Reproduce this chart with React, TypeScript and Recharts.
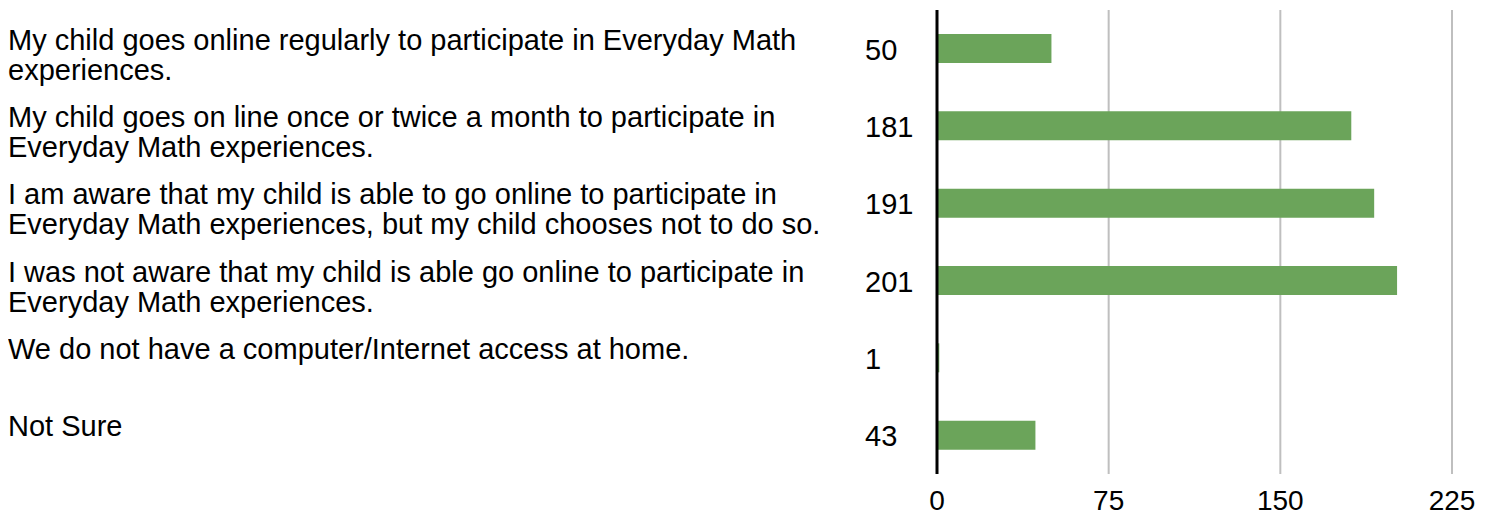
import React from "react";
import { BarChart, Bar, XAxis, YAxis, CartesianGrid } from "recharts";

// survey answers, split into the lines they wrap to
const answerLines: string[][] = [
  ["My child goes online regularly to participate in Everyday Math", "experiences."],
  ["My child goes on line once or twice a month to participate in", "Everyday Math experiences."],
  ["I am aware that my child is able to go online to participate in", "Everyday Math experiences, but my child chooses not to do so."],
  ["I was not aware that my child is able go online to participate in", "Everyday Math experiences."],
  ["We do not have a computer/Internet access at home."],
  ["Not Sure"],
];
const counts = [50, 181, 191, 201, 1, 43];
const xTicks = [0, 75, 150, 225];

const FONT = "'Liberation Sans', Arial, Helvetica, sans-serif";
const GREEN = "#6ba45a";

const data = answerLines.map((lines, i) => ({
  answer: lines.join(" "),
  count: counts[i],
}));

const AnswerTick = ({ y, payload }: any) => {
  const i = data.findIndex(d => d.answer === payload.value);
  const lines = answerLines[i] || [];
  return (
    <g>
      <text x={0} y={y + 1} fontSize={29} fontFamily={FONT} fill="#000">
        {lines.map((l, k) => (
          <tspan key={k} x={0} dy={k === 0 ? 0 : 30}>{l}</tspan>
        ))}
      </text>
      <text x={857} y={y + 11} fontSize={29} fontFamily={FONT} fill="#000">
        {counts[i]}
      </text>
    </g>
  );
};

const CountTick = ({ x, y, payload }: any) => (
  <text x={x} y={y} dy={28} textAnchor="middle" fontSize={28} fontFamily={FONT} fill="#000">
    {payload.value}
  </text>
);

export default function App() {
  return (
    <div style={{ width: 1477, height: 509, fontFamily: FONT }}>
      <BarChart width={1477} height={509} data={data} layout="vertical"
        margin={{ top: 2, right: 33, bottom: 0, left: 0 }}>
        <CartesianGrid horizontal={false} stroke="#bfbfbf" strokeWidth={2} />
        <XAxis type="number" domain={[0, 225]} ticks={xTicks} axisLine={false} tickLine={false}
          height={43} tick={<CountTick />} interval={0} />
        <YAxis type="category" dataKey="answer" width={929} tickLine={false}
          axisLine={{ stroke: "#000", strokeWidth: 3 }} tick={<AnswerTick />} interval={0} />
        <Bar dataKey="count" fill={GREEN} barSize={29} isAnimationActive={false} />
      </BarChart>
    </div>
  );
}
